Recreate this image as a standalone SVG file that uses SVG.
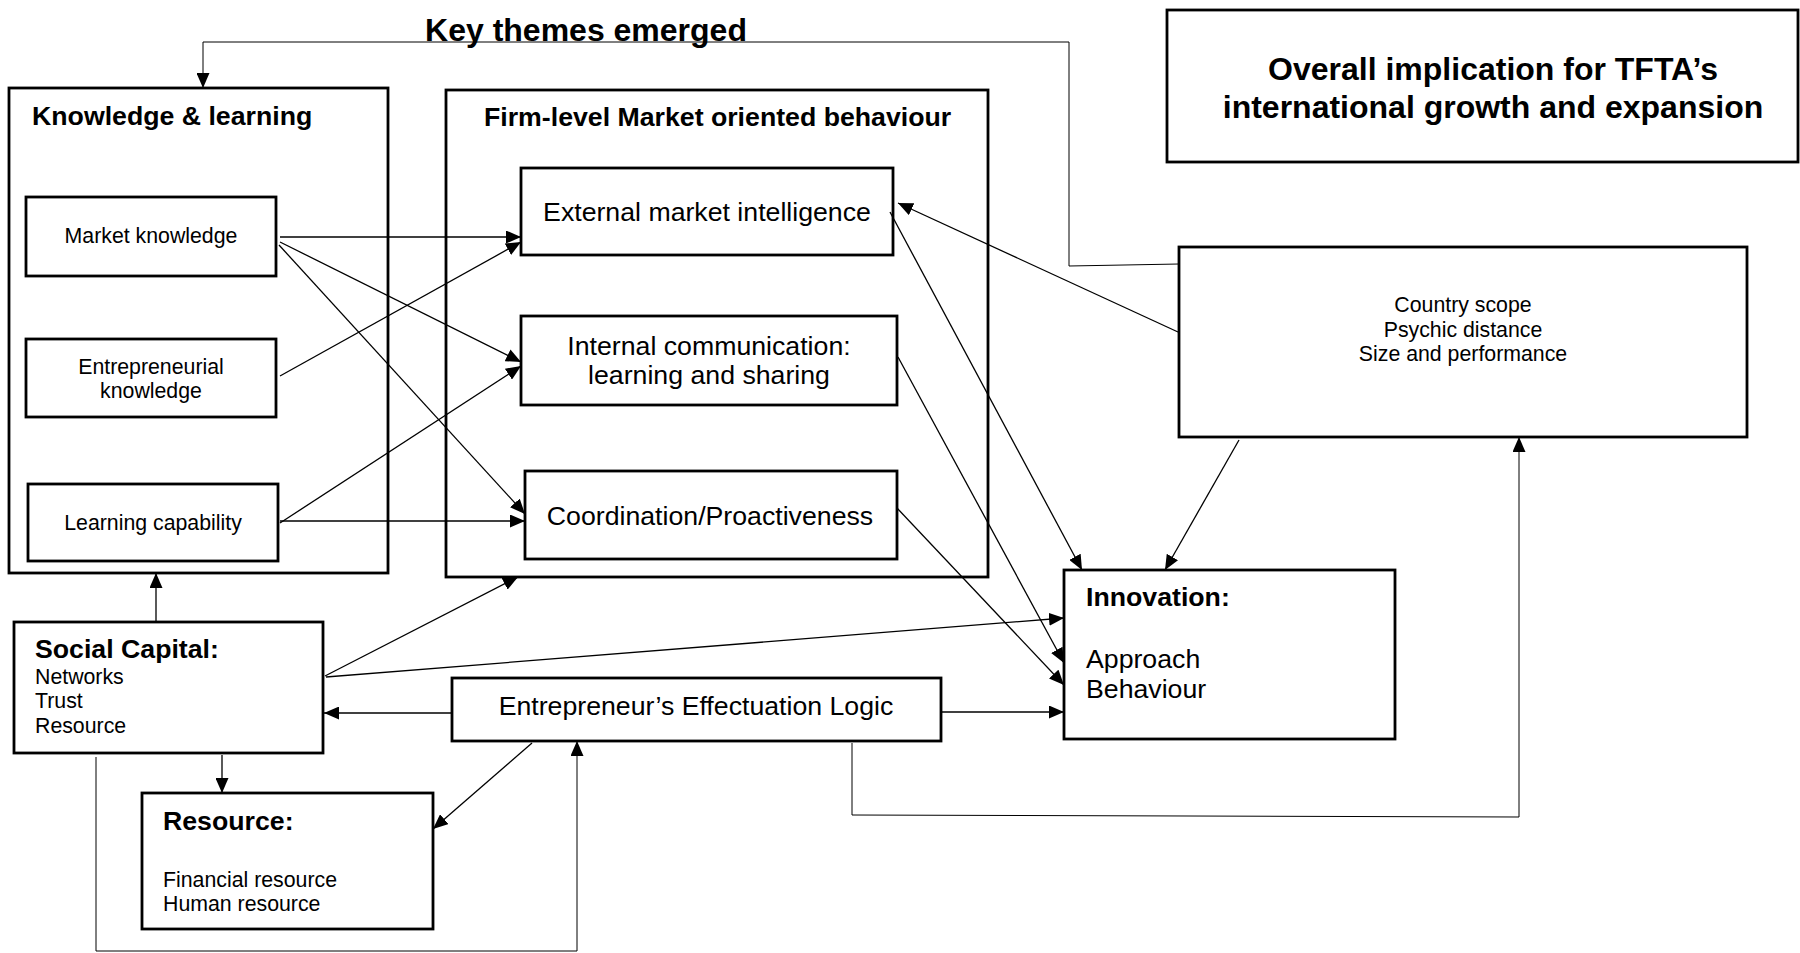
<svg xmlns="http://www.w3.org/2000/svg" width="1800" height="953" viewBox="0 0 1800 953">
<style>
.box{fill:#fff;stroke:#000;stroke-width:2.8}
.ln{fill:none;stroke:#000;stroke-width:1.3}
.thin{fill:none;stroke:#000;stroke-width:1}
text{font-family:"Liberation Sans",Arial,sans-serif;fill:#000}
.b{font-weight:bold}
.h32{font-size:32px;font-weight:bold}
.h27{font-size:26.7px}
.s21{font-size:21.3px}
.m{text-anchor:middle}
</style>
<defs>
<marker id="ah" markerUnits="userSpaceOnUse" markerWidth="16" markerHeight="13" refX="15" refY="6.5" orient="auto">
<path d="M0,0 L15,6.5 L0,13 z" fill="#000"/>
</marker>
</defs>
<rect width="1800" height="953" fill="#fff"/>

<g id="key-themes">
<text class="h32 m" x="586" y="41">Key themes emerged</text>
</g>

<g id="knowledge-learning">
<rect class="box" x="9" y="88" width="379" height="485"/>
<text class="h27 b" x="32" y="125">Knowledge &amp; learning</text>
</g>

<g id="firm-level">
<rect class="box" x="446" y="90" width="542" height="487"/>
<text class="h27 b" x="484" y="126">Firm-level Market oriented behaviour</text>
</g>

<g id="market-knowledge">
<rect class="box" x="26" y="197" width="250" height="79"/>
<text class="s21 m" x="151" y="243">Market knowledge</text>
</g>

<g id="entrepreneurial-knowledge">
<rect class="box" x="26" y="339" width="250" height="78"/>
<text class="s21 m" x="151" y="374">Entrepreneurial</text>
<text class="s21 m" x="151" y="398">knowledge</text>
</g>

<g id="learning-capability">
<rect class="box" x="28" y="484" width="250" height="77"/>
<text class="s21 m" x="153" y="530">Learning capability</text>
</g>

<g id="external-market-intelligence">
<rect class="box" x="521" y="168" width="372" height="87"/>
<text class="h27 m" x="707" y="221">External market intelligence</text>
</g>

<g id="internal-communication">
<rect class="box" x="521" y="316" width="376" height="89"/>
<text class="h27 m" x="709" y="355">Internal communication:</text>
<text class="h27 m" x="709" y="384">learning and sharing</text>
</g>

<g id="coordination">
<rect class="box" x="525" y="471" width="372" height="88"/>
<text class="h27 m" x="710" y="525">Coordination/Proactiveness</text>
</g>

<g id="overall-implication">
<rect class="box" x="1167" y="10" width="631" height="152"/>
<text class="h32 m" x="1493" y="80">Overall implication for TFTA’s</text>
<text class="h32 m" x="1493" y="118">international growth and expansion</text>
</g>

<g id="country-scope">
<rect class="box" x="1179" y="247" width="568" height="190"/>
<text class="s21 m" x="1463" y="312">Country scope</text>
<text class="s21 m" x="1463" y="337">Psychic distance</text>
<text class="s21 m" x="1463" y="361">Size and performance</text>
</g>

<g id="innovation">
<rect class="box" x="1064" y="570" width="331" height="169"/>
<text class="h27 b" x="1086" y="606">Innovation:</text>
<text class="h27" x="1086" y="668">Approach</text>
<text class="h27" x="1086" y="698">Behaviour</text>
</g>

<g id="social-capital">
<rect class="box" x="14" y="622" width="309" height="131"/>
<text class="h27 b" x="35" y="658">Social Capital:</text>
<text class="s21" x="35" y="684">Networks</text>
<text class="s21" x="35" y="708">Trust</text>
<text class="s21" x="35" y="733">Resource</text>
</g>

<g id="effectuation-logic">
<rect class="box" x="452" y="678" width="489" height="63"/>
<text class="h27 m" x="696" y="715">Entrepreneur’s Effectuation Logic</text>
</g>

<g id="resource">
<rect class="box" x="142" y="793" width="291" height="136"/>
<text class="h27 b" x="163" y="830">Resource:</text>
<text class="s21" x="163" y="887">Financial resource</text>
<text class="s21" x="163" y="911">Human resource</text>
</g>

<g id="connectors">
<polyline class="thin" points="1179,264 1069,266 1069,42 203,42 203,88" marker-end="url(#ah)"/>
<line class="ln" x1="280" y1="237" x2="521" y2="237" marker-end="url(#ah)"/>
<line class="ln" x1="280" y1="242" x2="521" y2="362" marker-end="url(#ah)"/>
<line class="ln" x1="279" y1="245" x2="525" y2="514" marker-end="url(#ah)"/>
<line class="ln" x1="280" y1="376" x2="521" y2="242" marker-end="url(#ah)"/>
<line class="ln" x1="280" y1="523" x2="521" y2="366" marker-end="url(#ah)"/>
<line class="ln" x1="280" y1="521" x2="525" y2="521" marker-end="url(#ah)"/>
<line class="ln" x1="890" y1="212" x2="1082" y2="570" marker-end="url(#ah)"/>
<line class="ln" x1="898" y1="357" x2="1064" y2="663" marker-end="url(#ah)"/>
<line class="ln" x1="897" y1="508" x2="1064" y2="685" marker-end="url(#ah)"/>
<line class="ln" x1="1178" y1="332" x2="898" y2="203" marker-end="url(#ah)"/>
<line class="ln" x1="1239" y1="440" x2="1165" y2="570" marker-end="url(#ah)"/>
<line class="ln" x1="325" y1="676" x2="518" y2="577" marker-end="url(#ah)"/>
<line class="ln" x1="326" y1="677" x2="1064" y2="618" marker-end="url(#ah)"/>
<line class="ln" x1="156" y1="622" x2="156" y2="573" marker-end="url(#ah)"/>
<line class="ln" x1="452" y1="713" x2="324" y2="713" marker-end="url(#ah)"/>
<line class="ln" x1="941" y1="712" x2="1064" y2="712" marker-end="url(#ah)"/>
<line class="ln" x1="222" y1="755" x2="222" y2="793" marker-end="url(#ah)"/>
<line class="ln" x1="532" y1="743" x2="433" y2="829" marker-end="url(#ah)"/>
<polyline class="thin" points="96,757 96,951 577,951 577,741" marker-end="url(#ah)"/>
<polyline class="thin" points="852,743 852,815 1519,817 1519,437" marker-end="url(#ah)"/>
</g>
</svg>
